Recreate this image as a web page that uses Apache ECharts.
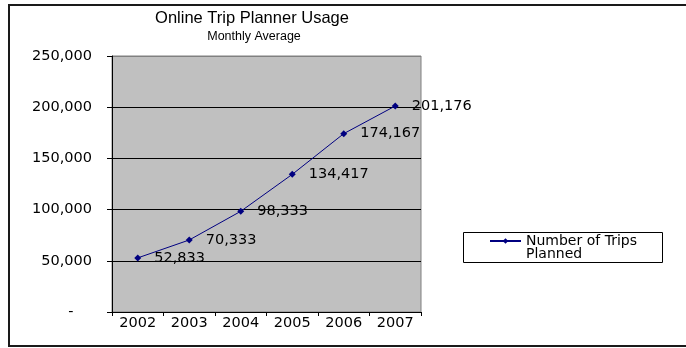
<!DOCTYPE html>
<html>
<head>
<meta charset="utf-8">
<script src="https://cdn.jsdelivr.net/npm/echarts@6/dist/echarts.min.js"></script>
<style>
  html, body { margin: 0; padding: 0; background: #fff; }
  #chart { width: 686px; height: 348px; }
</style>
</head>
<body>
<div id="chart"></div>
<script>
// Online trip planner usage, monthly average per year
const years = ['2002', '2003', '2004', '2005', '2006', '2007'];
const tripsPlanned = [52833, 70333, 98333, 134417, 174167, 201176];
const seriesName = 'Number of Trips Planned';
const yTicks = { min: 0, max: 250000, step: 50000 };

const labelFont = 'DejaVu Sans';
const fmt = v => v.toLocaleString('en-US');

const chart = echarts.init(document.getElementById('chart'), null, { renderer: 'canvas' });

chart.setOption({
  animation: false,
  backgroundColor: '#ffffff',
  title: [
    {
      text: 'Online Trip Planner Usage',
      left: 247, top: 5, textAlign: 'center',
      textStyle: { fontFamily: 'Liberation Sans', fontSize: 16.5, fontWeight: 'normal', color: '#000' }
    },
    {
      text: 'Monthly Average',
      left: 249, top: 25, textAlign: 'center',
      textStyle: { fontFamily: 'Liberation Sans', fontSize: 12.5, fontWeight: 'normal', color: '#000' }
    }
  ],
  graphic: [
    {
      // chart frame (open on the right)
      type: 'rect', silent: true, z: -1,
      shape: { x: 9, y: 5, width: 720, height: 341 },
      style: { fill: 'none', stroke: '#1a1a1a', lineWidth: 2 }
    },
    {
      // legend frame
      type: 'rect', silent: true, z: -1,
      shape: { x: 463.5, y: 232.5, width: 199, height: 30 },
      style: { fill: '#fff', stroke: '#000', lineWidth: 1 }
    }
  ],
  legend: {
    left: 489, top: 221,
    orient: 'vertical',
    padding: 0,
    itemWidth: 31, itemHeight: 7, itemGap: 0,
    textStyle: { fontFamily: labelFont, fontSize: 14, color: '#000', lineHeight: 13 },
    // first line sits level with the legend marker
    formatter: () => '\nNumber of Trips\nPlanned',
    data: [seriesName]
  },
  grid: {
    left: 112, top: 56, width: 309, height: 256,
    show: true, backgroundColor: '#c0c0c0', borderColor: '#808080', borderWidth: 1
  },
  xAxis: {
    type: 'category',
    data: years,
    boundaryGap: true,
    axisLine: { show: true, lineStyle: { color: '#000', width: 1 } },
    axisTick: { show: true, inside: false, length: 4, lineStyle: { color: '#000' } },
    axisLabel: { fontFamily: labelFont, fontSize: 14.5, color: '#000', margin: 4 },
    splitLine: { show: false }
  },
  yAxis: {
    type: 'value',
    min: yTicks.min, max: yTicks.max, interval: yTicks.step,
    axisLine: { show: true, lineStyle: { color: '#000', width: 1 } },
    axisTick: { show: true, inside: false, length: 5, lineStyle: { color: '#000' } },
    axisLabel: {
      fontFamily: labelFont, fontSize: 14.5, color: '#000', margin: 20,
      formatter: v => v === 0 ? '-    ' : fmt(v)
    },
    splitLine: {
      show: true,
      lineStyle: { color: ['#000', '#000', '#000', '#000', '#000', '#808080'], width: 1 }
    }
  },
  series: [
    {
      name: seriesName,
      type: 'line',
      data: tripsPlanned,
      color: '#000080',
      lineStyle: { color: '#000080', width: 1 },
      symbol: 'diamond',
      symbolSize: 7,
      showAllSymbol: true,
      itemStyle: { color: '#000080' },
      label: {
        show: true, position: 'right', distance: 13,
        fontFamily: labelFont, fontSize: 14.5, color: '#000',
        formatter: p => fmt(p.value)
      }
    }
  ]
});
</script>
</body>
</html>
